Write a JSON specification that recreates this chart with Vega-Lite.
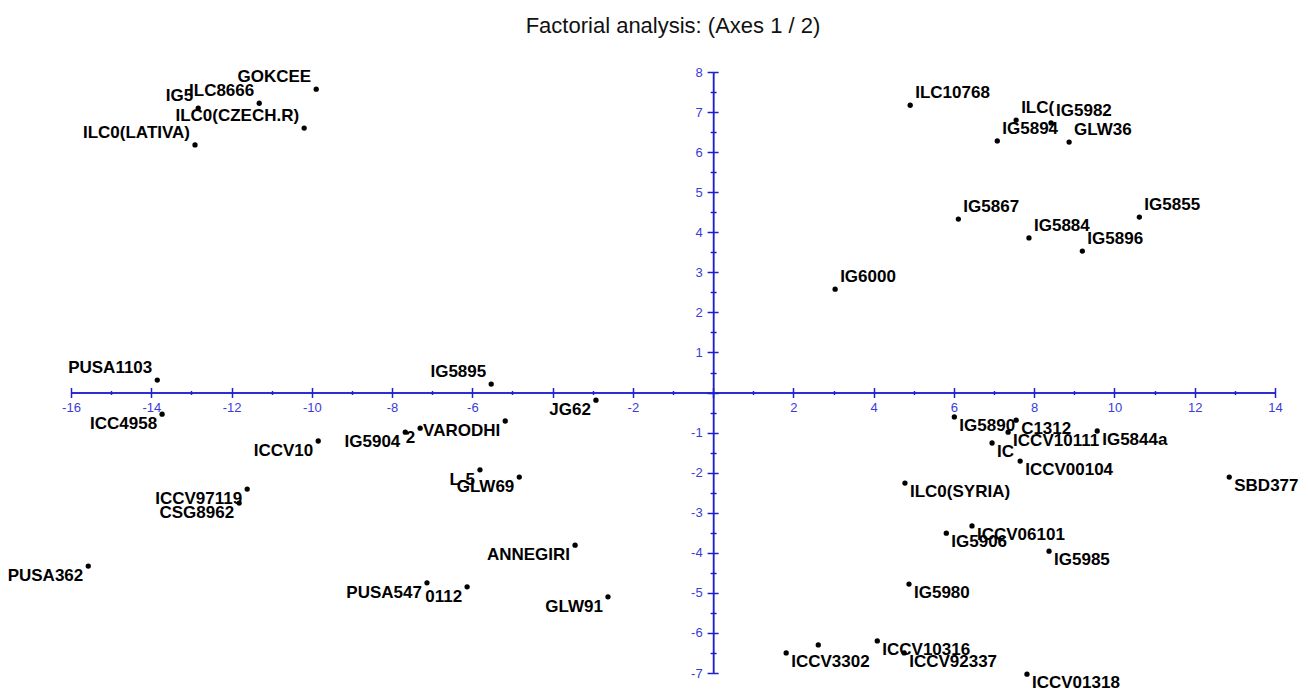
{
  "$schema": "https://vega.github.io/schema/vega-lite/v6.json",
  "width": 1204,
  "height": 601,
  "autosize": {"type": "none"},
  "padding": {"left": 71, "top": 72, "right": 34, "bottom": 16},
  "background": "white",
  "config": {"view": {"stroke": null}, "font": "Liberation Sans", "axis": {"labelFontSize": 13, "labelColor": "#3b3bdb", "labelFont": "Liberation Sans"}},
  "title": {"text": "Factorial analysis: (Axes 1 / 2)", "fontSize": 22, "fontWeight": "normal", "font": "Liberation Sans", "color": "#111111", "anchor": "middle", "offset": 28},
  "data": {"values": [
    {"name": "GOKCEE", "F1": -9.89, "F2": 7.57},
    {"name": "ILC8666", "F1": -11.31, "F2": 7.22},
    {"name": "IG5", "F1": -12.83, "F2": 7.10},
    {"name": "ILC0(CZECH.R)", "F1": -10.19, "F2": 6.60},
    {"name": "ILC0(LATIVA)", "F1": -12.91, "F2": 6.18},
    {"name": "ILC10768", "F1": 4.91, "F2": 7.17},
    {"name": "ILC(", "F1": 7.55, "F2": 6.80},
    {"name": "IG5982", "F1": 8.42, "F2": 6.73},
    {"name": "IG5894", "F1": 7.08, "F2": 6.28},
    {"name": "GLW36", "F1": 8.87, "F2": 6.25},
    {"name": "IG5867", "F1": 6.11, "F2": 4.33},
    {"name": "IG5884", "F1": 7.87, "F2": 3.86},
    {"name": "IG5896", "F1": 9.20, "F2": 3.53},
    {"name": "IG5855", "F1": 10.62, "F2": 4.38},
    {"name": "IG6000", "F1": 3.04, "F2": 2.58},
    {"name": "PUSA1103", "F1": -13.85, "F2": 0.31},
    {"name": "IG5895", "F1": -5.53, "F2": 0.21},
    {"name": "ICC4958", "F1": -13.73, "F2": -0.54},
    {"name": "JG62", "F1": -2.92, "F2": -0.19},
    {"name": "ICCV10", "F1": -9.84, "F2": -1.21},
    {"name": "IG5904", "F1": -7.67, "F2": -0.99},
    {"name": "2", "F1": -7.30, "F2": -0.89},
    {"name": "VARODHI", "F1": -5.18, "F2": -0.71},
    {"name": "L-5", "F1": -5.81, "F2": -1.93},
    {"name": "GLW69", "F1": -4.83, "F2": -2.11},
    {"name": "ICCV97119", "F1": -11.61, "F2": -2.41},
    {"name": "CSG8962", "F1": -11.81, "F2": -2.76},
    {"name": "PUSA362", "F1": -15.57, "F2": -4.33},
    {"name": "ANNEGIRI", "F1": -3.44, "F2": -3.81},
    {"name": "PUSA547", "F1": -7.13, "F2": -4.75},
    {"name": "0112", "F1": -6.13, "F2": -4.85},
    {"name": "GLW91", "F1": -2.62, "F2": -5.10},
    {"name": "IG5890", "F1": 6.01, "F2": -0.61},
    {"name": "C1312", "F1": 7.55, "F2": -0.69},
    {"name": "IC", "F1": 6.95, "F2": -1.26},
    {"name": "ICCV10111", "F1": 7.35, "F2": -0.99},
    {"name": "IG5844a", "F1": 9.57, "F2": -0.96},
    {"name": "ICCV00104", "F1": 7.65, "F2": -1.71},
    {"name": "ILC0(SYRIA)", "F1": 4.78, "F2": -2.26},
    {"name": "SBD377", "F1": 12.86, "F2": -2.11},
    {"name": "IG5906", "F1": 5.81, "F2": -3.51},
    {"name": "ICCV06101", "F1": 6.45, "F2": -3.33},
    {"name": "IG5985", "F1": 8.37, "F2": -3.96},
    {"name": "IG5980", "F1": 4.88, "F2": -4.78},
    {"name": "ICCV3302", "F1": 1.82, "F2": -6.50},
    {"name": "", "F1": 2.62, "F2": -6.30},
    {"name": "ICCV10316", "F1": 4.09, "F2": -6.20},
    {"name": "ICCV92337", "F1": 4.76, "F2": -6.50},
    {"name": "ICCV01318", "F1": 7.82, "F2": -7.03}
  ]},
  "resolve": {"axis": {"x": "independent", "y": "independent"}},
  "layer": [
    {
      "mark": {"type": "circle", "size": 28, "color": "#000000", "opacity": 1},
      "encoding": {
        "x": {"field": "F1", "type": "quantitative",
          "scale": {"domain": [-16, 14], "nice": false, "zero": false},
          "axis": {"orient": "bottom", "offset": -280.47, "title": null, "grid": false,
            "values": [-16,-15,-14,-13,-12,-11,-10,-9,-8,-7,-6,-5,-4,-3,-2,-1,0,1,2,3,4,5,6,7,8,9,10,11,12,13,14],
            "domainColor": "#1f1fcf", "domainWidth": 1.5, "tickColor": "#1f1fcf", "tickWidth": 1.5,
            "tickSize": {"condition": {"test": "datum.value % 2 === 0", "value": 5}, "value": 2},
            "labelExpr": "(datum.value % 2 === 0 && datum.value !== 0 && datum.value !== -4) ? ('' + datum.value) : ''",
            "labelColor": "#3b3bdb", "labelFontSize": 13, "labelFont": "Liberation Sans", "labelPadding": 4,
            "labelOverlap": false, "labelFlush": false, "labelBound": false}},
        "y": {"field": "F2", "type": "quantitative",
          "scale": {"domain": [-7, 8], "nice": false, "zero": false},
          "axis": {"orient": "left", "offset": -642.13, "title": null, "grid": false,
            "values": [-7,-6.5,-6,-5.5,-5,-4.5,-4,-3.5,-3,-2.5,-2,-1.5,-1,-0.5,0,0.5,1,1.5,2,2.5,3,3.5,4,4.5,5,5.5,6,6.5,7,7.5,8],
            "domainColor": "#1f1fcf", "domainWidth": 1.5, "tickColor": "#1f1fcf", "tickWidth": 1.5,
            "tickSize": {"condition": {"test": "datum.value % 1 === 0", "value": 6}, "value": 3},
            "labelExpr": "(datum.value % 1 === 0 && datum.value !== 0) ? ('' + datum.value) : ''",
            "labelColor": "#3b3bdb", "labelFontSize": 13, "labelFont": "Liberation Sans", "labelPadding": 5,
            "labelOverlap": false, "labelFlush": false, "labelBound": false}}
      }
    },
    {
      "transform": [{"filter": "datum.F1 < 0 && datum.F2 >= 0"}],
      "mark": {"type": "text", "align": "right", "baseline": "alphabetic", "dx": -5, "dy": -7, "fontSize": 17, "fontWeight": "bold", "font": "Liberation Sans", "color": "#000000"},
      "encoding": {
        "x": {"field": "F1", "type": "quantitative",
          "axis": {"orient": "top", "offset": -320.53, "title": null, "grid": false, "labels": false,
            "values": [-16,-15,-14,-13,-12,-11,-10,-9,-8,-7,-6,-5,-4,-3,-2,-1,0,1,2,3,4,5,6,7,8,9,10,11,12,13,14],
            "domainColor": "#1f1fcf", "domainWidth": 1.5, "tickColor": "#1f1fcf", "tickWidth": 1.5,
            "tickSize": {"condition": {"test": "datum.value % 2 === 0", "value": 5}, "value": 2}}},
        "y": {"field": "F2", "type": "quantitative",
          "axis": {"orient": "right", "offset": -561.87, "title": null, "grid": false, "labels": false,
            "values": [-7,-6.5,-6,-5.5,-5,-4.5,-4,-3.5,-3,-2.5,-2,-1.5,-1,-0.5,0,0.5,1,1.5,2,2.5,3,3.5,4,4.5,5,5.5,6,6.5,7,7.5,8],
            "domainColor": "#1f1fcf", "domainWidth": 1.5, "tickColor": "#1f1fcf", "tickWidth": 1.5,
            "tickSize": {"condition": {"test": "datum.value % 1 === 0", "value": 5}, "value": 3}}},
        "text": {"field": "name"}
      }
    },
    {
      "transform": [{"filter": "datum.F1 >= 0 && datum.F2 >= 0"}],
      "mark": {"type": "text", "align": "left", "baseline": "alphabetic", "dx": 5, "dy": -7, "fontSize": 17, "fontWeight": "bold", "font": "Liberation Sans", "color": "#000000"},
      "encoding": {
        "x": {"field": "F1", "type": "quantitative", "axis": null},
        "y": {"field": "F2", "type": "quantitative", "axis": null},
        "text": {"field": "name"}
      }
    },
    {
      "transform": [{"filter": "datum.F1 < 0 && datum.F2 < 0"}],
      "mark": {"type": "text", "align": "right", "baseline": "alphabetic", "dx": -5, "dy": 15, "fontSize": 17, "fontWeight": "bold", "font": "Liberation Sans", "color": "#000000"},
      "encoding": {
        "x": {"field": "F1", "type": "quantitative", "axis": null},
        "y": {"field": "F2", "type": "quantitative", "axis": null},
        "text": {"field": "name"}
      }
    },
    {
      "transform": [{"filter": "datum.F1 >= 0 && datum.F2 < 0"}],
      "mark": {"type": "text", "align": "left", "baseline": "alphabetic", "dx": 5, "dy": 14, "fontSize": 17, "fontWeight": "bold", "font": "Liberation Sans", "color": "#000000"},
      "encoding": {
        "x": {"field": "F1", "type": "quantitative", "axis": null},
        "y": {"field": "F2", "type": "quantitative", "axis": null},
        "text": {"field": "name"}
      }
    }
  ]
}
